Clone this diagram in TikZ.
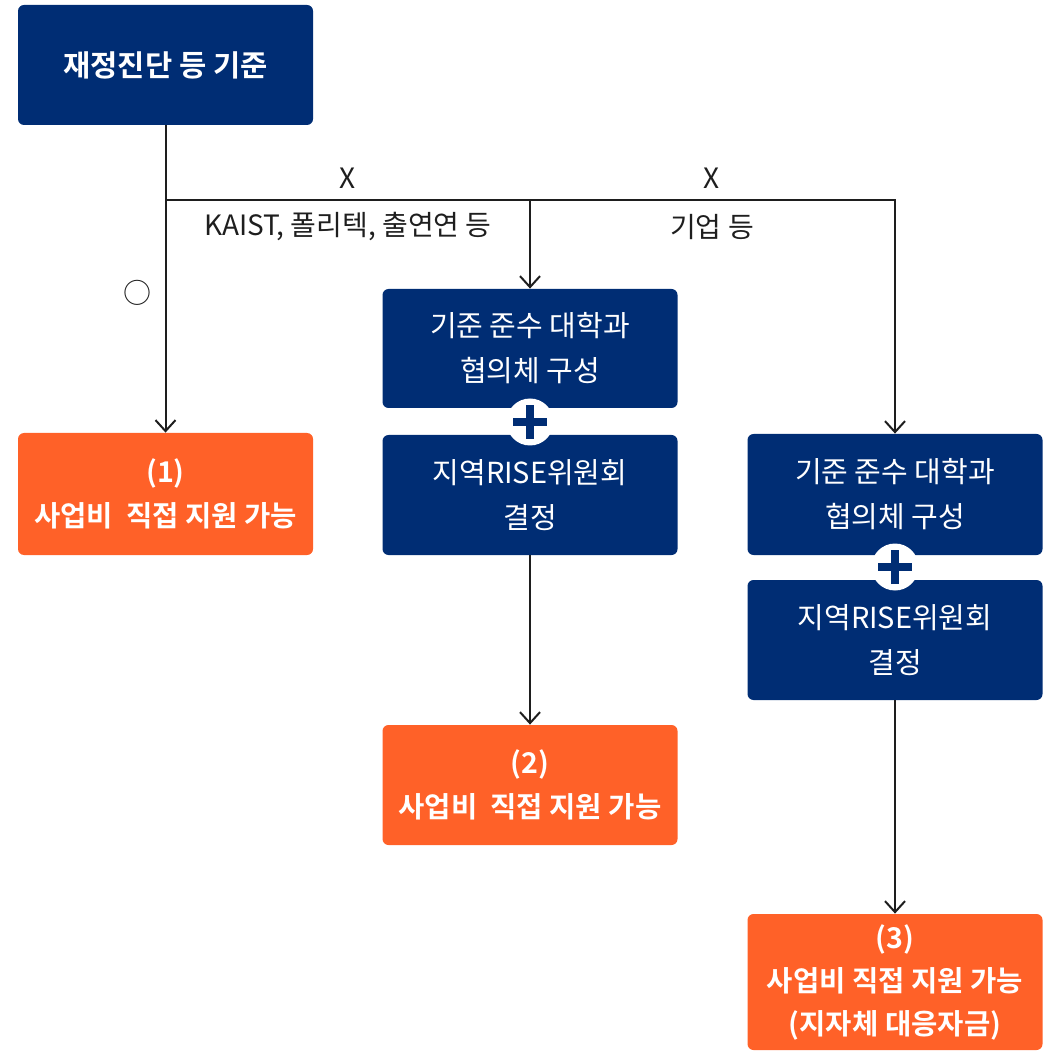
\documentclass[tikz,border=0pt]{standalone}
\usepackage{fontspec}
\setmainfont{Noto Sans CJK KR}[BoldFont={Noto Sans CJK KR Bold}]
\usetikzlibrary{arrows.meta}
\definecolor{navy}{RGB}{0,45,116}
\definecolor{riseorange}{RGB}{255,97,40}
\definecolor{linegray}{RGB}{30,30,30}
\begin{document}
\begin{tikzpicture}[x=0.5pt,y=-0.5pt,>={Straight Barb[length=5.5pt,width=10pt,line width=1pt]},
	box/.style={rounded corners=3pt,inner sep=0pt,minimum width=147.5pt,minimum height=60pt,
		align=center,text=white,font=\fontsize{14.5}{22.5}\selectfont},
	navybox/.style={box,fill=navy},
	resultbox/.style={box,fill=riseorange,font=\fontsize{14.3}{22}\selectfont\bfseries},
	plus/.style={circle,fill=white,minimum size=23.5pt,inner sep=0pt},
	cross/.style={navy,line width=3.8pt},
	branch/.style={font=\fontsize{14}{16}\selectfont,text=linegray},
	flow/.style={linegray,line width=1pt}]
	\useasboundingbox (0,0) rectangle (1050,1052);
	% boxes
	\node[navybox,font=\fontsize{14.8}{22.5}\selectfont\bfseries] (top) at (165.5,65) {재정진단 등 기준};
	\node[resultbox,minimum height=61pt] (one) at (165.5,494) {(1)\\사업비~~직접 지원 가능};
	\node[navybox,minimum height=59.5pt] (mida) at (530,348.5) {기준 준수 대학과\\협의체 구성};
	\node[navybox] (midb) at (530,495) {지역RISE위원회\\결정};
	\node[resultbox] (two) at (530,785) {(2)\\사업비~~직접 지원 가능};
	\node[navybox,minimum height=60.5pt] (righta) at (895,494.5) {기준 준수 대학과\\협의체 구성};
	\node[navybox] (rightb) at (895,640) {지역RISE위원회\\결정};
	\node[resultbox,minimum height=68pt,font=\fontsize{14.3}{21.5}\selectfont\bfseries] (three) at (895,982) {(3)\\사업비 직접 지원 가능\\(지자체 대응자금)};
	% plus marks
	\node[plus] (pmid) at (530,422) {};
	\node[plus] (pright) at (895,567) {};
	\foreach \p in {pmid,pright}{
		\draw[cross] ([xshift=-8.5pt]\p.center) -- ([xshift=8.5pt]\p.center);
		\draw[cross] ([yshift=-8.5pt]\p.center) -- ([yshift=8.5pt]\p.center);
	}
	% branches
	\coordinate (jleft) at (165.5,200);
	\coordinate (jmid) at (530,200);
	\coordinate (jright) at (895,200);
	\draw[flow,->] (top.south) -- (one.north);
	\draw[flow,->] (jleft) -- (jright) -- (righta.north);
	\draw[flow,->] (jmid) -- (mida.north);
	\draw[flow,->] (midb.south) -- (two.north);
	\draw[flow,->] (rightb.south) -- (three.north);
	% labels
	\node[branch] (xmid) at (348,178) {X};
	\node[branch] (xright) at (712,178) {X};
	\node[branch] (lmid) at (348,227) {KAIST, 폴리텍, 출연연 등};
	\node[branch] (lright) at (712,227) {기업 등};
	\node[branch] (oleft) at (137,293) {○};
\end{tikzpicture}
\end{document}
